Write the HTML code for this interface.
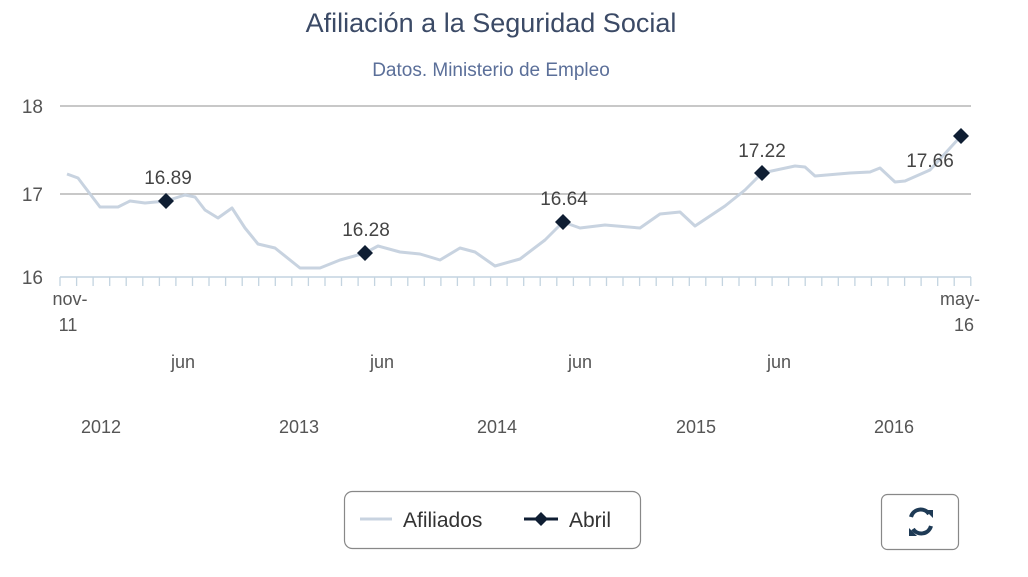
<!DOCTYPE html>
<html><head><meta charset="utf-8"><style>
html,body{margin:0;padding:0;background:#fff;}
svg{display:block;font-family:"Liberation Sans","DejaVu Sans",sans-serif;}
</style></head><body>
<svg width="1028" height="577" viewBox="0 0 1028 577" xmlns="http://www.w3.org/2000/svg">
<text x="491" y="32" text-anchor="middle" font-size="27" fill="#3b4a66">Afiliación a la Seguridad Social</text>
<text x="491" y="76" text-anchor="middle" font-size="19" fill="#5b6f99">Datos. Ministerio de Empleo</text>
<g stroke="#b5b5b5" stroke-width="1.5">
<line x1="60" y1="106" x2="971" y2="106"/>
<line x1="60" y1="194" x2="971" y2="194"/>
</g>
<line x1="60" y1="277" x2="971" y2="277" stroke="#c4d4e0" stroke-width="1.5"/>
<path stroke="#c4d4e0" stroke-width="1.3" fill="none" d="M60,277v9M76.6,277v9M93.1,277v9M109.7,277v9M126.2,277v9M142.8,277v9M159.4,277v9M175.9,277v9M192.5,277v9M209,277v9M225.6,277v9M242.2,277v9M258.7,277v9M275.3,277v9M291.8,277v9M308.4,277v9M325,277v9M341.5,277v9M358.1,277v9M374.6,277v9M391.2,277v9M407.8,277v9M424.3,277v9M440.9,277v9M457.4,277v9M474,277v9M490.6,277v9M507.1,277v9M523.7,277v9M540.2,277v9M556.8,277v9M573.4,277v9M589.9,277v9M606.5,277v9M623,277v9M639.6,277v9M656.2,277v9M672.7,277v9M689.3,277v9M705.8,277v9M722.4,277v9M739,277v9M755.5,277v9M772.1,277v9M788.6,277v9M805.2,277v9M821.8,277v9M838.3,277v9M854.9,277v9M871.4,277v9M888,277v9M904.6,277v9M921.1,277v9M937.7,277v9M954.2,277v9M970.8,277v9"/>
<g font-size="19" fill="#555">
<text x="43" y="113" text-anchor="end">18</text>
<text x="43" y="201" text-anchor="end">17</text>
<text x="43" y="284" text-anchor="end">16</text>
</g>
<g font-size="18" fill="#555" text-anchor="middle">
<text x="70" y="305">nov-</text><text x="68" y="331">11</text>
<text x="960" y="305">may-</text><text x="964" y="331">16</text>
<text x="183" y="368">jun</text><text x="382" y="368">jun</text><text x="580" y="368">jun</text><text x="779" y="368">jun</text>
<text x="101" y="433">2012</text><text x="299" y="433">2013</text><text x="497" y="433">2014</text><text x="696" y="433">2015</text><text x="894" y="433">2016</text>
</g>
<polyline fill="none" stroke="#c8d3e0" stroke-width="3" stroke-linejoin="round" points="67,174 78,178 84,186 100,207 118,207 130,201 145,203 166,201 185,195 195,197 205,210 218,218 232,208 245,228 258,244 275,248 300,268 320,268 340,260 365,253 378,246 400,252 420,254 440,260 460,248 475,252 495,266 520,259 545,240 563,222 580,228 605,225 640,228 660,214 680,212 695,226 725,206 745,190 762,173 795,166 805,167 815,176 850,173 870,172 880,168 895,182 905,181 930,170 961,136"/>
<g fill="#0f1e33">
<path d="M166,193 l8,8 l-8,8 l-8,-8z"/>
<path d="M365,245 l8,8 l-8,8 l-8,-8z"/>
<path d="M563,214 l8,8 l-8,8 l-8,-8z"/>
<path d="M762,165 l8,8 l-8,8 l-8,-8z"/>
<path d="M961,128 l8,8 l-8,8 l-8,-8z"/>
</g>
<g font-size="19" fill="#444" text-anchor="middle">
<text x="168" y="184">16.89</text>
<text x="366" y="236">16.28</text>
<text x="564" y="205">16.64</text>
<text x="762" y="157">17.22</text>
<text x="930" y="167">17.66</text>
</g>
<rect x="344.5" y="491.5" width="296" height="57" rx="8" fill="#fff" stroke="#888" stroke-width="1.2"/>
<line x1="360" y1="519" x2="392" y2="519" stroke="#c8d3e0" stroke-width="3"/>
<text x="403" y="527" font-size="21" fill="#333">Afiliados</text>
<line x1="524" y1="519" x2="558" y2="519" stroke="#0f1e33" stroke-width="3"/>
<path d="M541,512 l7,7 l-7,7 l-7,-7z" fill="#0f1e33"/>
<text x="569" y="527" font-size="21" fill="#333">Abril</text>
<rect x="881.5" y="494.5" width="77" height="55" rx="6" fill="#fff" stroke="#888" stroke-width="1.2"/>
<g fill="none" stroke="#1e3a55" stroke-width="4">
<path d="M911,517 A10,10 0 0 1 929,514"/>
<path d="M931,526 A10,10 0 0 1 913,529"/>
</g>
<path d="M925,510 L933,510 L933,518z" fill="#1e3a55"/>
<path d="M909,528 L909,536 L917,536z" fill="#1e3a55"/>
</svg>
</body></html>
